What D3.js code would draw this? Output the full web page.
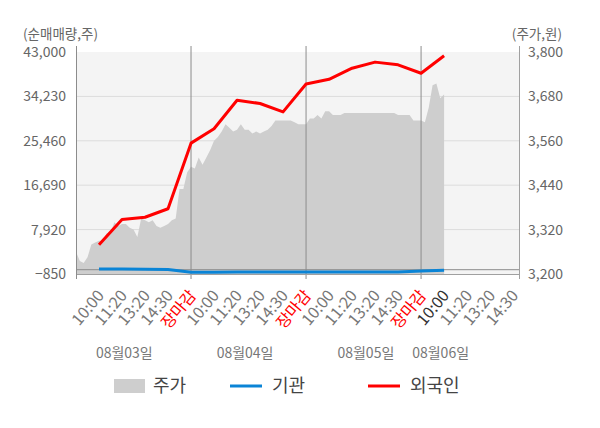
<!DOCTYPE html>
<html><head><meta charset="utf-8">
<script src="https://cdn.jsdelivr.net/npm/d3@7"></script>
<style>
body{margin:0;background:#fff;}
text{font-family:"Noto Sans CJK KR","Noto Sans",sans-serif;}
</style></head>
<body><svg id="c" width="600" height="428"></svg>
<script>
// ---- data ----
const days = ["08월03일","08월04일","08월05일","08월06일"];
const dayLabelPos = [2.1, 7.35, 12.6, 15.85];
const tickNames = ["10:00","11:20","13:20","14:30","장마감"];
const tickUnits = d3.range(1, 20);            // slot positions of the time ticks
const leftTicks = [-850, 7920, 16690, 25460, 34230, 43000];
const rightTicks = [3200, 3320, 3440, 3560, 3680, 3800];
// price (주가, 원) sampled every 1/6 slot
const price = [3260,3235,3230,3245,3280,3285,3290,3290,3310,3310,3340,3330,3335,3335,3325,3320,3300,3350,3345,3340,3345,3330,3325,3330,3335,3345,3350,3430,3430,3475,
  3490,3485,3515,3495,3515,3535,3560,3570,3585,3605,3595,3585,3590,3605,3590,3590,3580,3585,3580,3585,3590,3600,3615,3615,3615,3615,3615,3610,3605,3605,
  3605,3620,3620,3630,3620,3640,3640,3630,3630,3630,3635,3635,3635,3635,3635,3635,3635,3635,3635,3635,3635,3635,3635,3635,3630,3630,3630,3630,3615,3615,
  3615,3610,3650,3710,3715,3675,3685];
// 외국인 / 기관 cumulative net buying at tick slots 1..16
const foreign = [4920,9900,10360,12040,25000,27840,33480,32830,31170,36670,37610,39800,41000,40460,38800,42250];
const inst = [120,120,100,60,-520,-480,-470,-470,-470,-450,-450,-450,-450,-460,-280,-120];
const legendItems = [{name:"주가",type:"area"},{name:"기관",type:"line",color:"#0a84d6"},{name:"외국인",type:"line",color:"#ff0000"}];

// ---- layout ----
const L = 76, R = 520, T = 52, B = 274;
const svg = d3.select("#c");
const x = d3.scaleLinear().domain([0, 19.3]).range([L, R]);
const yL = d3.scaleLinear().domain([-850, 43000]).range([B, T]);
const yR = d3.scaleLinear().domain([3200, 3800]).range([B, T]);

svg.append("rect").attr("x", L).attr("y", T).attr("width", R - L).attr("height", B - T).attr("fill", "#f4f4f4");

// grid
svg.append("g").selectAll("line").data(leftTicks.slice(1, -1)).join("line")
  .attr("x1", L).attr("x2", R).attr("y1", d => yL(d)).attr("y2", d => yL(d))
  .attr("stroke", "#dcdcdc").attr("stroke-width", 1);

// price area
svg.append("path").datum(price)
  .attr("d", d3.area().x((d, i) => x(i / 6)).y0(yR(3200)).y1(d => yR(d)))
  .attr("fill", "#cecece");

// day separators
svg.append("g").selectAll("line").data([5, 10, 15]).join("line")
  .attr("x1", d => x(d)).attr("x2", d => x(d)).attr("y1", 46).attr("y2", B + 5)
  .attr("stroke", "#8c8c8c").attr("stroke-width", 1);

// zero line
svg.append("line").attr("x1", L).attr("x2", R).attr("y1", yL(0)).attr("y2", yL(0))
  .attr("stroke", "#8c8c8c").attr("stroke-width", 1);

// axes lines
svg.append("line").attr("x1", L).attr("x2", R).attr("y1", B + 0.5).attr("y2", B + 0.5).attr("stroke", "#a0a0a0");
svg.append("line").attr("x1", L + 0.5).attr("x2", L + 0.5).attr("y1", 46).attr("y2", B + 5).attr("stroke", "#8c8c8c");
svg.append("line").attr("x1", R - 0.5).attr("x2", R - 0.5).attr("y1", 46).attr("y2", B + 5).attr("stroke", "#a0a0a0");

// lines
const slotLine = d3.line().x((d, i) => x(i + 1)).y(d => yL(d));
svg.append("path").datum(inst).attr("d", slotLine).attr("fill", "none")
  .attr("stroke", "#0a84d6").attr("stroke-width", 3);
svg.append("path").datum(foreign).attr("d", slotLine).attr("fill", "none")
  .attr("stroke", "#ff0000").attr("stroke-width", 3).attr("stroke-linejoin", "round");

// left axis labels
svg.append("g").selectAll("text").data(leftTicks).join("text")
  .attr("x", 66).attr("y", d => yL(d)).attr("dy", "0.35em").attr("text-anchor", "end")
  .attr("font-size", 14).attr("fill", "#666").text(d => d3.format(",")(d));
// right axis labels
svg.append("g").selectAll("text").data(rightTicks).join("text")
  .attr("x", 528).attr("y", d => yR(d)).attr("dy", "0.35em").attr("text-anchor", "start")
  .attr("font-size", 14).attr("fill", "#666").text(d => d3.format(",")(d));

svg.append("text").attr("x", 23).attr("y", 34).attr("dy", "0.35em").attr("font-size", 13.5)
  .attr("fill", "#666").text("(순매매량,주)");
svg.append("text").attr("x", 562).attr("y", 34).attr("dy", "0.35em").attr("text-anchor", "end")
  .attr("font-size", 13.5).attr("fill", "#666").text("(주가,원)");

// x tick labels
svg.append("g").selectAll("text").data(tickUnits).join("text")
  .attr("transform", d => `translate(${x(d) + 6},${B + 22}) rotate(-50)`)
  .attr("text-anchor", "end").attr("font-size", 16)
  .attr("fill", d => d % 5 === 0 ? "#ff0000" : (d === 16 ? "#333" : "#777"))
  .text(d => tickNames[(d - 1) % 5]);

// date labels
svg.append("g").selectAll("text").data(days).join("text")
  .attr("x", (d, i) => x(dayLabelPos[i])).attr("y", 353).attr("dy", "0.35em")
  .attr("text-anchor", "middle").attr("font-size", 14).attr("fill", "#777").text(d => d);

// legend
const lx = [114, 230, 368];
const lg = svg.append("g").selectAll("g").data(legendItems).join("g")
  .attr("transform", (d, i) => `translate(${lx[i]},386)`);
lg.filter(d => d.type === "area").append("rect").attr("x", 0).attr("y", -7).attr("width", 31).attr("height", 14).attr("fill", "#cecece");
lg.filter(d => d.type === "line").append("line").attr("x1", 0).attr("x2", 32).attr("y1", 0).attr("y2", 0)
  .attr("stroke", d => d.color).attr("stroke-width", 3);
lg.append("text").attr("x", (d, i) => i === 0 ? 39 : 42).attr("y", 0).attr("dy", "0.35em")
  .attr("font-size", 18).attr("fill", "#444").text(d => d.name);
</script></body></html>
